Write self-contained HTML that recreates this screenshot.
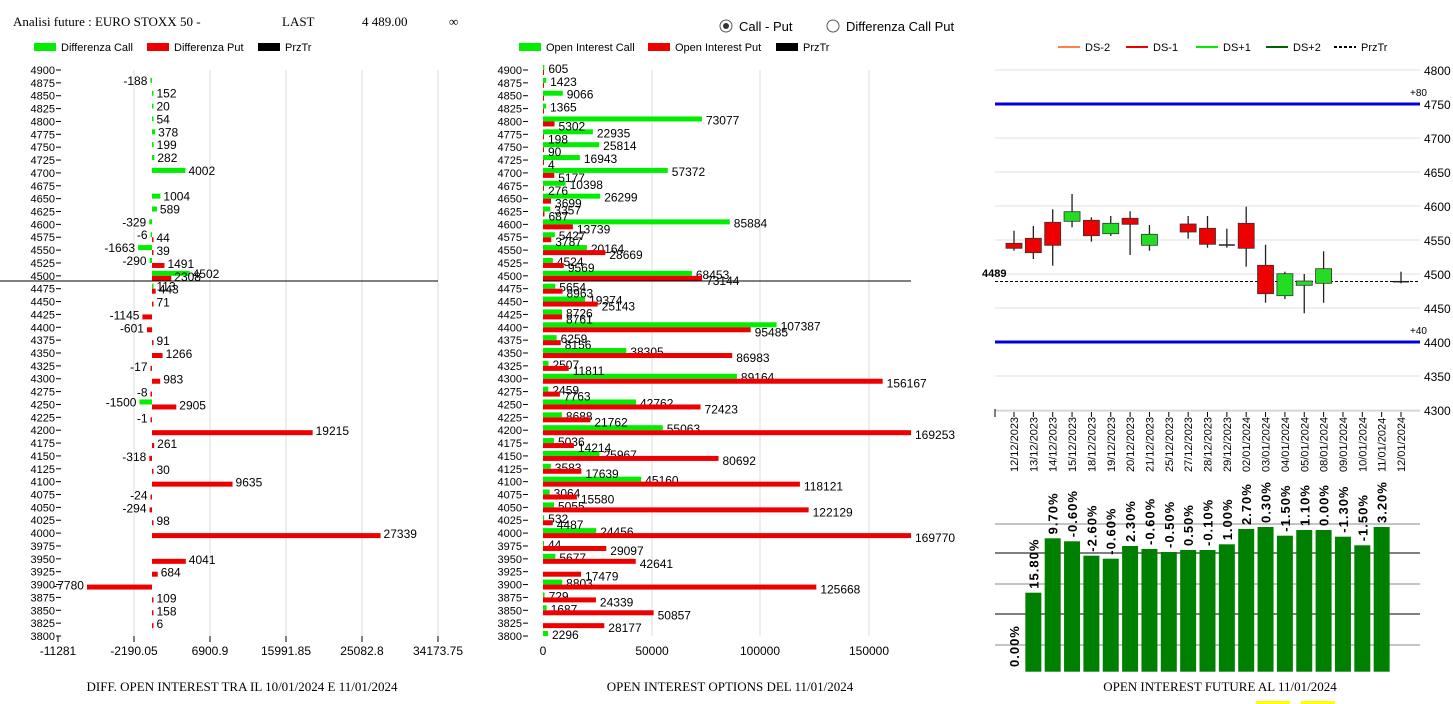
<!DOCTYPE html>
<html><head><meta charset="utf-8"><style>
body{margin:0;background:#fff;width:1453px;height:704px;overflow:hidden}
svg{display:block}
text{font-family:"Liberation Sans",sans-serif;font-size:11px;fill:#000}
.s{font-family:"Liberation Serif",serif;font-size:13px}
</style></head><body>
<svg id="c" width="1453" height="704" xmlns="http://www.w3.org/2000/svg"></svg>
<script>
const S=[];const a=s=>S.push(s);
const T=(x,y,t,o='')=>a(`<text x="${x}" y="${y}" ${o}>${t}</text>`);
const R=(x,y,w,h,f,o='')=>a(`<rect x="${x}" y="${y}" width="${w}" height="${h}" fill="${f}" ${o}/>`);
const L=(x1,y1,x2,y2,c,o='')=>a(`<line x1="${x1}" y1="${y1}" x2="${x2}" y2="${y2}" stroke="${c}" ${o}/>`);
T(13,26,'Analisi future : EURO STOXX 50 -','class="s"');T(282,26,'LAST','class="s"');T(362,26,'4 489.00','class="s"');T(449,26,'∞','class="s"');
a('<circle cx="726" cy="26" r="6" fill="#fff" stroke="#555"/><circle cx="726" cy="26" r="3" fill="#333"/>');
T(739,31,'Call - Put','style="font-size:13px"');
a('<circle cx="833" cy="26" r="6" fill="#fff" stroke="#555"/>');T(846,31,'Differenza Call Put','style="font-size:13px"');
[[34,'#00ee00','Differenza Call'],[147,'#ee0000','Differenza Put'],[258,'#000','PrzTr'],[519,'#00ee00','Open Interest Call'],[648,'#ee0000','Open Interest Put'],[776,'#000','PrzTr']].forEach(([x,c,t])=>{R(x,43,22,8,c);T(x+27,51,t);});
const strikes=[];for(let s=4900;s>=3800;s-=25)strikes.push(s);
const Y=s=>70+(4900-s)/25*12.864;
[134,210,286,362,438].forEach(x=>L(x,70,x,636,'#ddd'));
[[58,'-11281'],[134,'-2190.05'],[210,'6900.9'],[286,'15991.85'],[362,'25082.8'],[438,'34173.75']].forEach(([x,t])=>{L(x,636,x,642,'#000');T(x,655,t,'text-anchor="middle" style="font-size:12px"');});
strikes.forEach(s=>{T(55,Y(s)+4,s,'text-anchor="end"');L(56,Y(s),61,Y(s),'#000');T(522,Y(s)+4,s,'text-anchor="end"');L(523,Y(s),528,Y(s),'#000');});
const D={4875:[-188],4850:[152],4825:[20],4800:[54],4775:[378],4750:[199],4725:[282],4700:[4002],4650:[1004],4625:[589],4600:[-329],4575:[-6,44],4550:[-1663,39],4525:[-290,1491],4500:[4502,2308],4475:[113,443],4450:[null,71],4425:[null,-1145],4400:[null,-601],4375:[null,91],4350:[null,1266],4325:[null,-17],4300:[null,983],4275:[null,-8],4250:[-1500,2905],4225:[null,-1],4200:[null,19215],4175:[null,261],4150:[null,-318],4125:[null,30],4100:[null,9635],4075:[null,-24],4050:[null,-294],4025:[null,98],4000:[null,27339],3950:[null,4041],3925:[null,684],3900:[null,-7780],3875:[null,109],3850:[null,158],3825:[null,6]};
const k1=0.00836,z1=152;
for(const s in D){const [c,p]=D[s];const y=Y(+s);
 [[c,'#00ee00',-5,2],[p,'#ee0000',0,5]].forEach(([v,col,dy,ty])=>{if(v==null)return;const w=Math.max(1.5,Math.abs(v)*k1);const x=v<0?z1-w:z1;R(x,y+dy,w,5,col);
 if(v<0)T(x-3,y+ty,v,'text-anchor="end" style="font-size:12px"');else T(x+w+3,y+ty,v,'style="font-size:12px"');});}
L(0,281,438,281,'#000');
[652,760,869].forEach(x=>L(x,70,x,636,'#ddd'));
[[543,'0'],[652,'50000'],[760,'100000'],[869,'150000']].forEach(([x,t])=>T(x,655,t,'text-anchor="middle" style="font-size:12px"'));
const M={4900:[605,0],4875:[1423,0],4850:[9066,0],4825:[1365,0],4800:[73077,5302],4775:[22935,198],4750:[25814,90],4725:[16943,4],4700:[57372,5177],4675:[10398,276],4650:[26299,3699],4625:[3357,687],4600:[85884,13739],4575:[5427,3787],4550:[20164,28669],4525:[4524,9569],4500:[68453,73144],4475:[5654,8963],4450:[19374,25143],4425:[8726,8761],4400:[107387,95485],4375:[6259,8156],4350:[38305,86983],4325:[2507,11811],4300:[89164,156167],4275:[2459,7763],4250:[42762,72423],4225:[8688,21762],4200:[55063,169253],4175:[5036,14214],4150:[25967,80692],4125:[3583,17639],4100:[45160,118121],4075:[3064,15580],4050:[5055,122129],4025:[532,4487],4000:[24456,169770],3975:[44,29097],3950:[5677,42641],3925:[null,17479],3900:[8803,125668],3875:[729,24339],3850:[1687,50857],3825:[null,28177],3800:[2296,null]};
const k2=0.002175,z2=543;
for(const s in M){const [c,p]=M[s];const y=Y(+s);
 [[c,'#00ee00',-5,0],[p,'#ee0000',0,6]].forEach(([v,col,dy,ty])=>{if(v==null)return;const w=Math.min(368,Math.max(1,v*k2));R(z2,y+dy,w,5,col);if(v>0)T(z2+w+4,y+ty+3,v,'style="font-size:12px"');});}
L(543,281,911,281,'#000');
T(242,691,'DIFF. OPEN INTEREST TRA IL 10/01/2024 E 11/01/2024','class="s" text-anchor="middle"');
T(730,691,'OPEN INTEREST OPTIONS DEL 11/01/2024','class="s" text-anchor="middle"');
T(1220,691,'OPEN INTEREST FUTURE AL 11/01/2024','class="s" text-anchor="middle"');
R(1256,701,34,3,'#ffff00');R(1301,701,34,3,'#ffff00');
[[1058,'#ff8040','DS-2',''],[1126,'#ee0000','DS-1',''],[1196,'#00ee00','DS+1',''],[1266,'#006400','DS+2',''],[1334,'#000','PrzTr','stroke-dasharray="3,2"']].forEach(([x,c,t,o])=>{L(x,47,x+22,47,c,'stroke-width="2" '+o);T(x+27,51,t);});
const P=p=>70+(4800-p)*0.68;
for(let p=4800;p>=4300;p-=50){L(995,P(p),1420,P(p),'#e0e0e0');T(1424,P(p)+5,p,'style="font-size:12px"');}
L(995,P(4750),1420,P(4750),'#0000dd','stroke-width="3"');L(995,P(4400),1420,P(4400),'#0000dd','stroke-width="3"');
T(1410,96,'+80','style="font-size:10px"');T(1410,334,'+40','style="font-size:10px"');
L(995,281.5,1420,281.5,'#000','stroke-dasharray="3,2"');T(982,277,'4489','style="font-weight:bold;font-size:11px"');
const C=[[0,243.3,248.3,230.7,250.7,'r'],[1,238.3,252.7,226,259,'r'],[2,222.3,245.3,209.3,265.7,'r'],[3,211.7,221.3,194,227.3,'g'],[4,220.3,235.7,217.3,241.7,'r'],[5,223.3,233.7,216,236,'g'],[6,218.3,224.3,211.3,255,'r'],[7,234.3,245.3,225,250.7,'g'],[9,224,232,216,238.7,'r'],[10,228.3,244.3,216,247.7,'r'],[11,245,245,228.7,247.7,'d'],[12,223.3,248.3,206.7,266.7,'r'],[13,265.3,293.7,244.7,302.7,'r'],[14,273.7,295.7,271.7,299,'g'],[15,281,285.3,274,313.3,'g'],[16,268.7,283.3,251.3,302.7,'g'],[20,281.7,281.7,271.7,283.3,'d']];
const X=i=>1014+19.35*i;
C.forEach(([i,t,b,h,l,c])=>{const x=X(i);L(x,h,x,l,'#222','stroke-width="1.3"');if(c=='d')L(x-8,t,x+8,t,'#222','stroke-width="1.5"');else R(x-8,t,16,b-t,c=='r'?'#ee0000':'#22dd22','stroke="#333" stroke-width="0.8"');});
L(995,411,1420,411,'#ccc');
const dates=['12/12/2023','13/12/2023','14/12/2023','15/12/2023','18/12/2023','19/12/2023','20/12/2023','21/12/2023','25/12/2023','27/12/2023','28/12/2023','29/12/2023','02/01/2024','03/01/2024','04/01/2024','05/01/2024','08/01/2024','09/01/2024','10/01/2024','11/01/2024','12/01/2024'];
L(995,409,995,417,'#000');
dates.forEach((d,i)=>{const x=X(i);L(x,412,x,417,'#000');T(x+4,472,d,`transform="rotate(-90 ${x+4} 472)" style="font-size:11px"`);});
[[524,'#888'],[553,'#000'],[584,'#888'],[614,'#000'],[645,'#888']].forEach(([y,c])=>L(995,y,1420,y,c));
const B=[[1,592.7,'15.80%'],[2,538.3,'9.70%'],[3,541.3,'-0.60%'],[4,555.7,'-2.60%'],[5,558.7,'-0.60%'],[6,546,'2.30%'],[7,549,'-0.60%'],[8,552,'-0.50%'],[9,550,'0.50%'],[10,550,'-0.10%'],[11,544.3,'1.00%'],[12,529,'2.70%'],[13,527,'0.30%'],[14,535.7,'-1.50%'],[15,530,'1.10%'],[16,530,'0.00%'],[17,536.7,'-1.30%'],[18,545.3,'-1.50%'],[19,527,'3.20%']];
B.forEach(([i,t,lab])=>{const x=X(i);R(x-8,t,16,671.7-t,'#008000');T(x+5,t-4,lab,`transform="rotate(-90 ${x+5} ${t-4})" style="font-size:13px;font-weight:bold;letter-spacing:1px"`);});
T(X(0)+5,667,'0.00%',`transform="rotate(-90 ${X(0)+5} 667)" style="font-size:13px;font-weight:bold;letter-spacing:1px"`);
document.getElementById('c').innerHTML=S.join('');
</script>
</body></html>
